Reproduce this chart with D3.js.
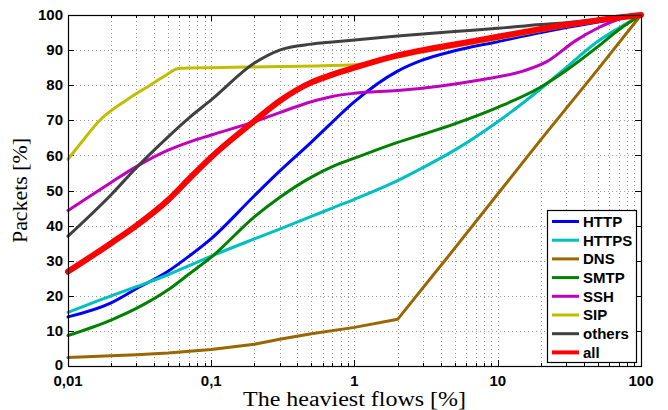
<!DOCTYPE html>
<html>
<head>
<meta charset="utf-8">
<script src="https://cdn.jsdelivr.net/npm/d3@7"></script>
<style>
  body { margin: 0; background: #fff; }
  .tick-label { font-family: "Liberation Sans", Arial, sans-serif; font-weight: bold; font-size: 15px; }
  .axis-title { font-family: "Liberation Serif", "Times New Roman", serif; font-size: 20px; }
  .legend-text { font-family: "Liberation Sans", Arial, sans-serif; font-weight: bold; font-size: 15px; }
</style>
</head>
<body>
<div id="chart"></div>
<script>
// values
const xTickValues = [0.01, 0.1, 1, 10, 100];
const xTickLabels = ["0,01", "0,1", "1", "10", "100"];
const yTickValues = [0, 10, 20, 30, 40, 50, 60, 70, 80, 90, 100];

const commonX = [0.01, 0.02, 0.03, 0.05, 0.07, 0.1, 0.2, 0.3, 0.5, 0.7, 1, 2, 3, 5, 10, 20, 30, 50, 70, 100];
const httpY   = [14, 18, 22, 27, 31.3, 36.3, 48.5, 55.5, 63.8, 69.5, 75.3, 84, 87.2, 89.8, 92.4, 95, 96.4, 98, 99, 100];
const httpsY  = [15.3, 20, 22.6, 26, 28.6, 31.3, 36.2, 39, 42.6, 45, 47.5, 52.8, 56.5, 61.5, 69.6, 79, 85, 92.5, 96.3, 100];
const smtpY   = [8.7, 13.1, 16.4, 21.7, 26.2, 31, 42.5, 48, 53.8, 56.8, 59.2, 63.7, 66, 69, 73.7, 79.5, 84.2, 91, 95.8, 100];
const othersY = [37, 48.8, 56.5, 65.3, 70.7, 75.8, 86.3, 90, 91.7, 92.3, 92.9, 94, 94.6, 95.3, 96.2, 97.3, 97.8, 98.7, 99.4, 100];
const allY    = [26.9, 35, 40, 47.3, 53.3, 59.5, 69.8, 75.5, 80.8, 83, 85, 88.5, 90, 91.6, 93.8, 96, 97.2, 98.5, 99.3, 100];

const dnsX = [0.01, 0.02, 0.03, 0.05, 0.1, 0.2, 0.3, 0.5, 1, 2, 5, 10, 20, 50, 100];
const dnsY = [2.4, 2.9, 3.2, 3.7, 4.7, 6.2, 7.6, 9.2, 11, 13.3, 33.5, 49, 64.5, 84.5, 100];

const sshX = [0.01, 0.02, 0.03, 0.05, 0.07, 0.1, 0.2, 0.3, 0.5, 0.7, 1, 2, 4, 7.5, 15, 22, 35, 50, 70, 100];
const sshY = [44.3, 52.3, 56.8, 61.5, 63.8, 65.8, 69.6, 72.2, 75.3, 76.8, 77.7, 78.5, 79.8, 81.5, 84, 86.7, 92.7, 96.3, 98.8, 100];

const sipX = [0.01, 0.0128, 0.0163, 0.0257, 0.0374, 0.0464, 0.06, 0.1, 0.3, 1, 2, 3, 5, 10, 30, 100];
const sipY = [58.9, 64.4, 69.6, 75.8, 80, 82.4, 84.8, 85, 85.3, 85.8, 88, 89.5, 91, 93.2, 96.8, 100];

const seriesNames  = ["HTTP", "HTTPS", "DNS", "SMTP", "SSH", "SIP", "others", "all"];
const seriesColors = ["#0000ff", "#00bfbf", "#996600", "#008000", "#bf00bf", "#bfbf00", "#404040", "#ff0000"];

const series = [
  { x: commonX, y: httpY },
  { x: commonX, y: httpsY },
  { x: dnsX, y: dnsY, linear: true },
  { x: commonX, y: smtpY },
  { x: sshX, y: sshY },
  { x: sipX, y: sipY },
  { x: commonX, y: othersY },
  { x: commonX, y: allY, wide: true }
];

const width = 668, height = 410;
const margin = { left: 68, right: 27, top: 15, bottom: 44 };
const x0 = margin.left, x1 = width - margin.right;
const y0 = height - margin.bottom, y1 = margin.top;

const svg = d3.select("#chart").append("svg")
  .attr("width", width)
  .attr("height", height);

const x = d3.scaleLog().domain([0.01, 100]).range([x0, x1]);
const y = d3.scaleLinear().domain([0, 100]).range([y0, y1]);

// minor log ticks 2..9 in each decade
const minorTicks = [];
for (let d = 0.01; d < 100; d *= 10) {
  for (let k = 2; k <= 9; k++) minorTicks.push(+(d * k).toPrecision(3));
}

// grid
const grid = svg.append("g")
  .attr("stroke", "#9a9a9a")
  .attr("stroke-width", 1)
  .attr("stroke-dasharray", "1,3");

grid.selectAll(".vg")
  .data(xTickValues.slice(1, -1).concat(minorTicks))
  .join("line")
  .attr("x1", d => Math.round(x(d)) + 0.5)
  .attr("x2", d => Math.round(x(d)) + 0.5)
  .attr("y1", y0)
  .attr("y2", y1);

grid.selectAll(".hg")
  .data(yTickValues.slice(1, -1))
  .join("line")
  .attr("x1", x0)
  .attr("x2", x1)
  .attr("y1", d => Math.round(y(d)) + 0.5)
  .attr("y2", d => Math.round(y(d)) + 0.5);

// ticks on all four sides, pointing inward
const ticks = svg.append("g").attr("stroke", "#000").attr("stroke-width", 1);
[[y0, -1], [y1, 1]].forEach(([yy, dir]) => {
  ticks.append("g").selectAll("line")
    .data(xTickValues)
    .join("line")
    .attr("x1", d => Math.round(x(d)) + 0.5)
    .attr("x2", d => Math.round(x(d)) + 0.5)
    .attr("y1", yy)
    .attr("y2", yy + dir * 6);
  ticks.append("g").selectAll("line")
    .data(minorTicks)
    .join("line")
    .attr("x1", d => Math.round(x(d)) + 0.5)
    .attr("x2", d => Math.round(x(d)) + 0.5)
    .attr("y1", yy)
    .attr("y2", yy + dir * 3);
});
[[x0, 1], [x1, -1]].forEach(([xx, dir]) => {
  ticks.append("g").selectAll("line")
    .data(yTickValues)
    .join("line")
    .attr("x1", xx)
    .attr("x2", xx + dir * 6)
    .attr("y1", d => Math.round(y(d)) + 0.5)
    .attr("y2", d => Math.round(y(d)) + 0.5);
});

// tick labels
svg.append("g").selectAll("text")
  .data(xTickValues)
  .join("text")
  .attr("class", "tick-label")
  .attr("x", d => x(d))
  .attr("y", y0 + 20)
  .attr("text-anchor", "middle")
  .text((d, i) => xTickLabels[i]);

svg.append("g").selectAll("text")
  .data(yTickValues)
  .join("text")
  .attr("class", "tick-label")
  .attr("x", x0 - 5)
  .attr("y", d => y(d) - (d === 0 ? 1 : 0))
  .attr("dy", "0.34em")
  .attr("text-anchor", "end")
  .text(d => d);

// lines
svg.append("defs").append("clipPath").attr("id", "plotclip")
  .append("rect")
  .attr("x", x0 - 3).attr("y", y1 - 4)
  .attr("width", x1 - x0 + 6).attr("height", y0 - y1 + 8);

const lineG = svg.append("g").attr("clip-path", "url(#plotclip)");
series.forEach((s, i) => {
  const pts = s.x.map((v, j) => [v, s.y[j]]);
  const line = d3.line()
    .x(d => x(d[0]))
    .y(d => y(d[1]))
    .curve(s.linear ? d3.curveLinear : d3.curveMonotoneX);
  lineG.append("path")
    .datum(pts)
    .attr("fill", "none")
    .attr("stroke", seriesColors[i])
    .attr("stroke-width", s.wide ? 6 : 3)
    .attr("stroke-linejoin", "round")
    .attr("stroke-linecap", "round")
    .attr("d", line);
});

// axes box
svg.append("rect")
  .attr("x", x0 + 0.5).attr("y", y1 + 0.5)
  .attr("width", x1 - x0).attr("height", y0 - y1)
  .attr("fill", "none")
  .attr("stroke", "#000")
  .attr("stroke-width", 1.2);

// axis titles
svg.append("text")
  .attr("class", "axis-title")
  .attr("x", (x0 + x1) / 2)
  .attr("y", 406)
  .attr("text-anchor", "middle")
  .attr("textLength", 223)
  .attr("lengthAdjust", "spacingAndGlyphs")
  .text("The heaviest flows [%]");

svg.append("text")
  .attr("class", "axis-title")
  .attr("transform", `translate(27,${(y0 + y1) / 2}) rotate(-90)`)
  .attr("text-anchor", "middle")
  .attr("textLength", 105)
  .attr("lengthAdjust", "spacingAndGlyphs")
  .text("Packets [%]");

// legend
const lg = svg.append("g");
lg.append("rect")
  .attr("x", 547.5).attr("y", 210.5)
  .attr("width", 89).attr("height", 152)
  .attr("fill", "#fff")
  .attr("stroke", "#000")
  .attr("stroke-width", 1.2);

const rows = lg.selectAll(".row")
  .data(seriesNames)
  .join("g")
  .attr("transform", (d, i) => `translate(0,${221.5 + i * 18.7})`);

rows.append("line")
  .attr("x1", 552).attr("x2", 579)
  .attr("y1", 0).attr("y2", 0)
  .attr("stroke", (d, i) => seriesColors[i])
  .attr("stroke-width", (d, i) => series[i].wide ? 4 : 3);

rows.append("text")
  .attr("class", "legend-text")
  .attr("x", 583)
  .attr("y", 0)
  .attr("dy", "0.36em")
  .text(d => d);
</script>
</body>
</html>
